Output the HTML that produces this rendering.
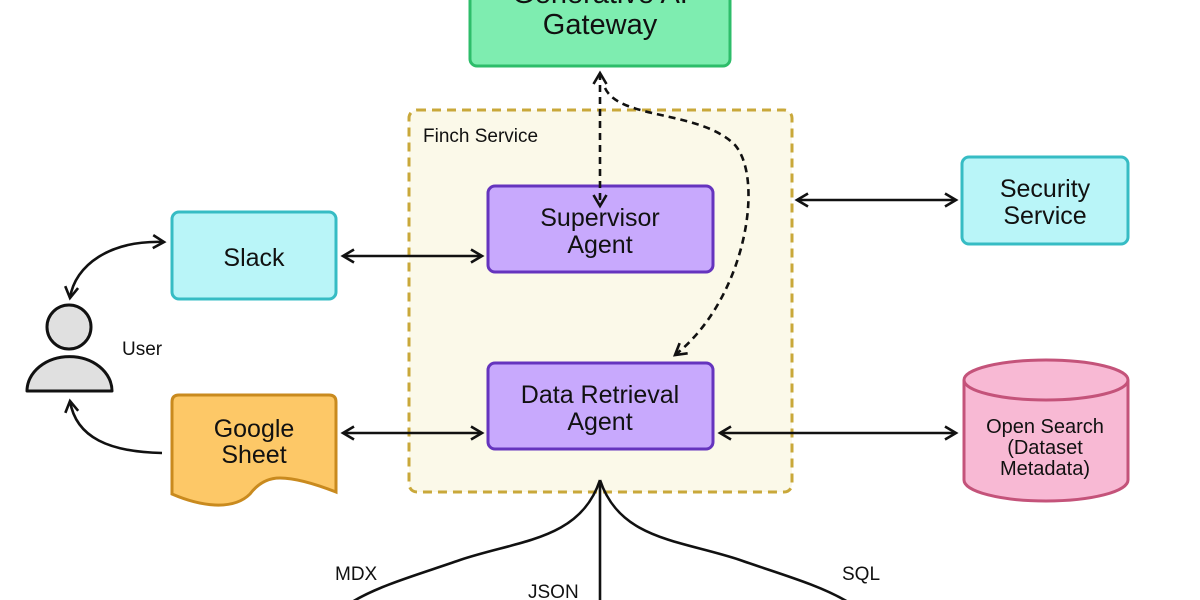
<!DOCTYPE html>
<html><head><meta charset="utf-8"><style>
html,body{margin:0;padding:0;background:#fff;}
svg{display:block;}
text{font-family:"Liberation Sans","DejaVu Sans",sans-serif;fill:#111;}
</style></head><body>
<svg width="1200" height="600" viewBox="0 0 1200 600" xmlns="http://www.w3.org/2000/svg">
<defs>
<marker id="ah" viewBox="0 0 16 16" refX="13" refY="8" markerWidth="16" markerHeight="16" markerUnits="userSpaceOnUse" orient="auto-start-reverse">
<path d="M2,1.5 L13,8 L2,14.5" fill="none" stroke="#111" stroke-width="2.6"/>
</marker>
</defs>
<!-- Gateway -->
<rect x="470" y="-12" width="260" height="78" rx="7" fill="#7eedb0" stroke="#2dbd6a" stroke-width="3"/>
<text x="600" y="3" font-size="29" text-anchor="middle">Generative AI</text>
<text x="600" y="34" font-size="29" text-anchor="middle">Gateway</text>
<!-- Finch -->
<rect x="409" y="110" width="383" height="382" rx="8" fill="#fbf9e9" stroke="#c9a83a" stroke-width="3" stroke-dasharray="9,6"/>
<text x="423" y="142" font-size="19">Finch Service</text>
<!-- Supervisor -->
<rect x="488" y="186" width="225" height="86" rx="7" fill="#c8a9fd" stroke="#6534be" stroke-width="3"/>
<text x="600" y="226" font-size="25" text-anchor="middle">Supervisor</text>
<text x="600" y="253" font-size="25" text-anchor="middle">Agent</text>
<!-- Data retrieval -->
<rect x="488" y="363" width="225" height="86" rx="7" fill="#c8a9fd" stroke="#6534be" stroke-width="3"/>
<text x="600" y="403" font-size="25" text-anchor="middle">Data Retrieval</text>
<text x="600" y="430" font-size="25" text-anchor="middle">Agent</text>
<!-- Slack -->
<rect x="172" y="212" width="164" height="87" rx="7" fill="#b9f5f8" stroke="#36bcc4" stroke-width="3"/>
<text x="254" y="266" font-size="25" text-anchor="middle">Slack</text>
<!-- Security -->
<rect x="962" y="157" width="166" height="87" rx="7" fill="#b9f5f8" stroke="#36bcc4" stroke-width="3"/>
<text x="1045" y="197" font-size="25" text-anchor="middle">Security</text>
<text x="1045" y="224" font-size="25" text-anchor="middle">Service</text>
<!-- Google sheet -->
<path d="M179,395 L329,395 Q336,395 336,402 L336,492 Q300,478 280,478 Q262,478 250,494 Q238,506 215,505 Q195,504 172,494 L172,402 Q172,395 179,395 Z" fill="#fdc867" stroke="#c98a1e" stroke-width="3"/>
<text x="254" y="437" font-size="25" text-anchor="middle">Google</text>
<text x="254" y="463" font-size="25" text-anchor="middle">Sheet</text>
<!-- Open Search cylinder -->
<path d="M964,380 L964,480 A82,21 0 0 0 1128,480 L1128,380" fill="#f8b9d4" stroke="#c4537a" stroke-width="3"/>
<ellipse cx="1046" cy="380" rx="82" ry="20" fill="#f8b9d4" stroke="#c4537a" stroke-width="3"/>
<text x="1045" y="433" font-size="20" text-anchor="middle">Open Search</text>
<text x="1045" y="454" font-size="20" text-anchor="middle">(Dataset</text>
<text x="1045" y="475" font-size="20" text-anchor="middle">Metadata)</text>
<!-- User -->
<circle cx="69" cy="327" r="22" fill="#e0e0e0" stroke="#111" stroke-width="3"/>
<path d="M27,391 A42,34 0 0 1 112,391 Z" fill="#e0e0e0" stroke="#111" stroke-width="3" stroke-linejoin="round"/>
<text x="122" y="355" font-size="19">User</text>
<!-- arrows -->
<g fill="none" stroke="#111" stroke-width="2.6">
<line x1="343" y1="256" x2="482" y2="256" marker-start="url(#ah)" marker-end="url(#ah)"/>
<line x1="343" y1="433" x2="482" y2="433" marker-start="url(#ah)" marker-end="url(#ah)"/>
<line x1="797" y1="200" x2="956" y2="200" marker-start="url(#ah)" marker-end="url(#ah)"/>
<line x1="720" y1="433" x2="956" y2="433" marker-start="url(#ah)" marker-end="url(#ah)"/>
<path d="M164,242 C110,240 75,265 70,298" marker-start="url(#ah)" marker-end="url(#ah)"/>
<path d="M162,453 C110,452 76,438 70,401" marker-end="url(#ah)"/>
<line x1="600" y1="73" x2="600" y2="206" stroke-dasharray="7,5" marker-start="url(#ah)" marker-end="url(#ah)"/>
<path d="M605,88 C620,120 700,110 735,145 C765,180 745,300 675,355" stroke-dasharray="7,5" marker-end="url(#ah)"/>
<line x1="600" y1="480" x2="600" y2="600"/>
<path d="M600,480 C580,540 520,540 460,560 C420,574 380,585 352,602"/>
<path d="M600,480 C620,540 680,540 740,560 C780,574 820,585 848,602"/>
</g>
<text x="335" y="580" font-size="19">MDX</text>
<text x="528" y="598" font-size="19">JSON</text>
<text x="842" y="580" font-size="19">SQL</text>
</svg>
</body></html>
